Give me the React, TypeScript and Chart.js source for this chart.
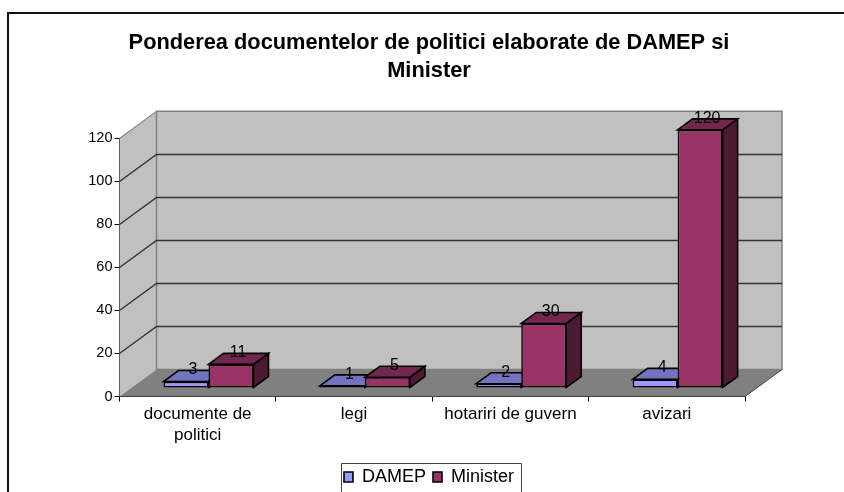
import React, { useEffect, useRef } from "react";
import { Chart, registerables } from "chart.js";

Chart.register(...registerables);

const categories: (string | string[])[] = [["documente de", "politici"], "legi", "hotariri de guvern", "avizari"];
const damep = [3, 1, 2, 4];
const minister = [11, 5, 30, 120];
const yTicksMax = 120;
const yStep = 20;
const titleLines = ["Ponderea documentelor de politici elaborate de DAMEP si", "Minister"];

const FONT = "'Liberation Sans', Arial, sans-serif";
const WALL_DX = 37;
const WALL_DY = 27;
const BAR_SHIFT_X = 10.8;
const BAR_SHIFT_Y = 8.5;
const BAR_DX = 15;
const BAR_DY = 11;
const faces = [
  { top: "#7373BF", side: "#4D4D80" },
  { top: "#732650", side: "#4D1A33" },
];

const poly = (ctx: CanvasRenderingContext2D, pts: number[][], fill: string, stroke: string, lw: number) => {
  ctx.beginPath();
  pts.forEach((p, i) => (i ? ctx.lineTo(p[0], p[1]) : ctx.moveTo(p[0], p[1])));
  ctx.closePath();
  ctx.fillStyle = fill;
  ctx.fill();
  if (stroke) {
    ctx.strokeStyle = stroke;
    ctx.lineWidth = lw;
    ctx.stroke();
  }
};

const chart3d = {
  id: "chart3d",
  beforeDraw(chart: any) {
    const { ctx, width, height } = chart;
    ctx.save();
    ctx.strokeStyle = "#111";
    ctx.lineWidth = 2;
    ctx.beginPath();
    ctx.moveTo(8, height + 4);
    ctx.lineTo(8, 13);
    ctx.lineTo(width + 4, 13);
    ctx.stroke();
    ctx.restore();
  },
  beforeDatasetsDraw(chart: any) {
    const { ctx, chartArea: a, scales } = chart;
    const y = scales.y;
    const L = a.left, R = a.right, T = a.top, B = a.bottom;
    ctx.save();
    // side wall
    poly(ctx, [[L, T], [L + WALL_DX, T - WALL_DY], [L + WALL_DX, B - WALL_DY], [L, B]], "#C0C0C0", "", 0);
    // back wall
    poly(ctx, [[L + WALL_DX, T - WALL_DY], [R + WALL_DX, T - WALL_DY], [R + WALL_DX, B - WALL_DY], [L + WALL_DX, B - WALL_DY]], "#C0C0C0", "#808080", 1.5);
    // floor
    poly(ctx, [[L, B], [R, B], [R + WALL_DX, B - WALL_DY], [L + WALL_DX, B - WALL_DY]], "#808080", "", 0);
    ctx.lineWidth = 1.2;
    ctx.strokeStyle = "#808080";
    ctx.beginPath();
    ctx.moveTo(L, T);
    ctx.lineTo(L + WALL_DX, T - WALL_DY);
    ctx.stroke();
    // grid lines
    ctx.strokeStyle = "#333";
    ctx.lineWidth = 1.4;
    y.ticks.forEach((t: any) => {
      if (t.value === 0 || t.value === yTicksMax) return;
      const py = Math.round(y.getPixelForValue(t.value)) + 0.5;
      ctx.beginPath();
      ctx.moveTo(L, py);
      ctx.lineTo(L + WALL_DX, py - WALL_DY);
      ctx.lineTo(R + WALL_DX, py - WALL_DY);
      ctx.stroke();
    });
    ctx.strokeStyle = "#444";
    ctx.lineWidth = 1;
    ctx.beginPath();
    ctx.moveTo(R, B);
    ctx.lineTo(R + WALL_DX, B - WALL_DY);
    ctx.stroke();
    // bars, left to right, so that each hides the side of the one before it
    chart.data.datasets.forEach((_: any, i: number) => {
      const meta = chart.getDatasetMeta(i);
      ctx.save();
      ctx.translate(BAR_SHIFT_X, -BAR_SHIFT_Y);
      meta.data.forEach((el: any) => {
        const l = el.x - el.width / 2, r = el.x + el.width / 2, t = el.y, b = el.base;
        poly(ctx, [[r, t], [r + BAR_DX, t - BAR_DY], [r + BAR_DX, b - BAR_DY], [r, b]], faces[i].side, "#000", 1.6);
        poly(ctx, [[l, t], [l + BAR_DX, t - BAR_DY], [r + BAR_DX, t - BAR_DY], [r, t]], faces[i].top, "#000", 1.6);
        el.draw(ctx);
      });
      ctx.restore();
    });
    ctx.restore();
  },
  beforeDatasetDraw() {
    return false;
  },
  afterDatasetsDraw(chart: any) {
    const { ctx } = chart;
    ctx.save();
    ctx.fillStyle = "#000";
    ctx.font = `16px ${FONT}`;
    ctx.textAlign = "center";
    ctx.textBaseline = "middle";
    chart.data.datasets.forEach((ds: any, i: number) => {
      chart.getDatasetMeta(i).data.forEach((el: any, j: number) => {
        ctx.fillText(String(ds.data[j]), el.x + BAR_SHIFT_X + 7, el.y - BAR_SHIFT_Y - 11.5);
      });
    });
    ctx.restore();
  },
  afterDraw(chart: any) {
    const { ctx, legend, height } = chart;
    const boxes = legend.legendHitBoxes;
    const first = boxes[0], last = boxes[boxes.length - 1];
    const left = Math.round(first.left - 3) + 0.5;
    const right = Math.round(last.left + last.width + 7) + 0.5;
    ctx.save();
    ctx.strokeStyle = "#444";
    ctx.lineWidth = 1;
    ctx.beginPath();
    ctx.moveTo(left, height + 2);
    ctx.lineTo(left, 463.5);
    ctx.lineTo(right, 463.5);
    ctx.lineTo(right, height + 2);
    ctx.stroke();
    ctx.restore();
  },
};

export default function App() {
  const ref = useRef<HTMLCanvasElement>(null);
  useEffect(() => {
    const chart = new Chart(ref.current as HTMLCanvasElement, {
      type: "bar",
      data: {
        labels: categories as any,
        datasets: [
          { label: "DAMEP", data: damep, backgroundColor: "#9999FF", borderColor: "#000", borderWidth: 1.6, borderSkipped: false, barPercentage: 1, categoryPercentage: 0.5755 },
          { label: "Minister", data: minister, backgroundColor: "#993366", borderColor: "#000", borderWidth: 1.6, borderSkipped: false, barPercentage: 1, categoryPercentage: 0.5755 },
        ] as any,
      },
      plugins: [chart3d as any],
      options: {
        animation: false,
        responsive: false,
        layout: { padding: { left: 14, right: 0, top: 0, bottom: -4 } },
        plugins: {
          tooltip: { enabled: false },
          title: {
            display: true,
            text: titleLines,
            color: "#000",
            font: { family: FONT, size: 21.8, weight: "bold", lineHeight: 1.27 },
            padding: { top: 29, bottom: 54 },
          },
          legend: {
            display: true,
            position: "bottom",
            labels: {
              color: "#000",
              font: { family: FONT, size: 18 },
              boxWidth: 9,
              boxHeight: 10,
              padding: 7,
            },
          },
        },
        scales: {
          x: {
            afterFit: (s: any) => { s.height = 64.5; },
            border: { color: "#000", width: 1 },
            grid: { drawOnChartArea: false, drawTicks: true, tickLength: 5, color: "#000" },
            ticks: { color: "#000", font: { family: FONT, size: 17, lineHeight: 1.25 }, maxRotation: 0, autoSkip: false, padding: 2 },
          },
          y: {
            min: 0,
            max: yTicksMax,
            afterFit: (s: any) => { s.width = 105.5; },
            border: { color: "#000", width: 1 },
            grid: { drawOnChartArea: false, drawTicks: true, tickLength: 5, color: "#000" },
            ticks: { stepSize: yStep, color: "#000", font: { family: FONT, size: 14.5 }, padding: 2 },
          },
          y2: {
            display: true,
            position: "right",
            afterFit: (s: any) => { s.width = 99; },
            border: { display: false },
            grid: { display: false },
            ticks: { display: false },
          },
        },
      } as any,
    });
    return () => chart.destroy();
  }, []);
  return (
    <div style={{ position: "absolute", left: 0, top: 0, width: 844, height: 492, background: "#fff" }}>
      <canvas ref={ref} width={844} height={492} style={{ display: "block" }} />
    </div>
  );
}
